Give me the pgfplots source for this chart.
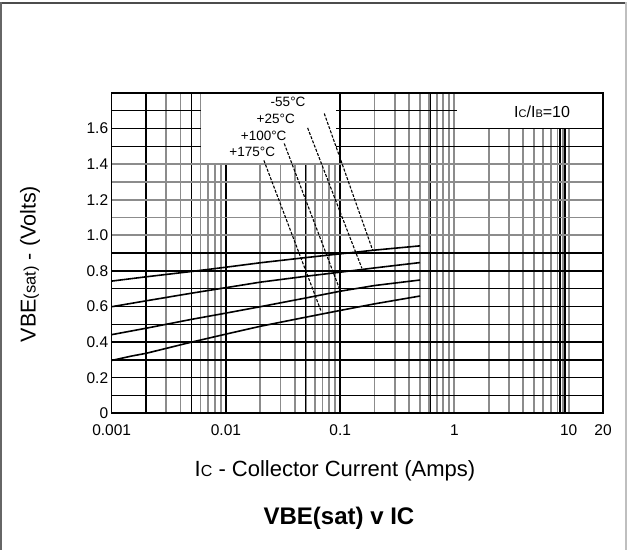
\documentclass[border=0pt]{standalone}
\usepackage{fontspec}
\setmainfont{Liberation Sans}
\usepackage{pgfplots}
\pgfplotsset{compat=1.18}

\newcommand{\fs}[1]{\fontsize{#1bp}{#1bp}\selectfont}

\begin{document}
\begin{tikzpicture}
\useasboundingbox (0,0) rectangle (627bp,550bp);
% outer frame of the figure
\draw[black!70, line width=2.5bp] (0,547bp) -- (627bp,547bp);
\draw[black!60, line width=1.5bp] (0.75bp,0) -- (0.75bp,548bp);
\draw[black!25, line width=1.5bp] (626bp,0) -- (626bp,548bp);

\begin{axis}[
  at={(111.7bp,136.7bp)}, anchor=south west,
  scale only axis, width=491.3bp, height=320.3bp,
  clip=false,
  xmode=log, xmin=0.001, xmax=20, ymin=0, ymax=1.8,
  xtick={0.001,0.01,0.1,1,10,20},
  xticklabels={0.001,0.01,0.1,1,10,20},
  minor xtick={0.002,0.003,0.004,0.005,0.006,0.007,0.008,0.009,
               0.02,0.03,0.04,0.05,0.06,0.07,0.08,0.09,
               0.2,0.3,0.4,0.5,0.6,0.7,0.8,0.9,
               1,2,3,4,5,6,7,8,9,10},
  ytick={0,0.2,0.4,0.6,0.8,1.0,1.2,1.4,1.6},
  yticklabels={0,0.2,0.4,0.6,0.8,1.0,1.2,1.4,1.6},
  minor ytick={0.1,0.2,0.3,0.4,0.5,0.6,0.7,0.8,0.9,1.5,1.6,1.7},
  major tick length=0pt, minor tick length=0pt,
  xmajorgrids=false, ymajorgrids=false,
  xminorgrids=true, yminorgrids=true,
  minor x grid style={black!45, line width=1.8bp},
  minor y grid style={black, line width=1.3bp},
  extra x ticks={0.002,0.005,0.01,0.05,0.1,0.62,8.4,9.3},
  extra x tick labels={},
  extra x tick style={xmajorgrids=true, major grid style={black, line width=1.4bp}},
  extra y ticks={1.0,1.1,1.2,1.3,1.4},
  extra y tick labels={},
  extra y tick style={ymajorgrids=true, major grid style={black!45, line width=1.8bp}},
  axis line style={black, line width=1.6bp},
  ticklabel style={font=\fs{15.5}},
  xticklabel style={yshift=-8bp},
  xlabel={I{\fs{16}C} - Collector Current (Amps)},
  xlabel style={font=\fs{22}, at={(axis description cs:0.4545,-0.179)}, anchor=center},
  ylabel={VBE{\fs{16.5}(sat)} - (Volts)},
  ylabel style={font=\fs{21.5}, at={(axis description cs:-0.166,0.466)}, anchor=center},
]
% white label areas
\fill[white] (axis cs:0.0061,1.405) rectangle (axis cs:0.092,1.8);
\fill[white] (axis cs:1.05,1.606) rectangle (axis cs:20,1.8);
\draw[black, line width=1.6bp] (rel axis cs:0,0) rectangle (rel axis cs:1,1);

% -55 C
\addplot[black, line width=1.6bp] coordinates {
  (0.001,0.743) (0.002,0.767) (0.005,0.797) (0.01,0.821) (0.02,0.846)
  (0.05,0.875) (0.1,0.896) (0.2,0.917) (0.5,0.941)};
% +25 C
\addplot[black, line width=1.6bp] coordinates {
  (0.001,0.599) (0.002,0.632) (0.005,0.675) (0.01,0.706) (0.02,0.737)
  (0.05,0.770) (0.1,0.793) (0.2,0.817) (0.5,0.847)};
% +100 C
\addplot[black, line width=1.6bp] coordinates {
  (0.001,0.442) (0.002,0.478) (0.005,0.528) (0.01,0.563) (0.02,0.599)
  (0.05,0.648) (0.1,0.686) (0.2,0.718) (0.5,0.749)};
% +175 C
\addplot[black, line width=1.6bp] coordinates {
  (0.001,0.297) (0.0015,0.322) (0.002,0.337) (0.005,0.400) (0.01,0.445)
  (0.02,0.489) (0.05,0.540) (0.1,0.578) (0.2,0.615) (0.5,0.659)};

% leader lines
\addplot[black, line width=1.1bp, dash pattern=on 3bp off 1.5bp] coordinates {(0.0726,1.685) (0.1935,0.913)};
\addplot[black, line width=1.1bp, dash pattern=on 3bp off 1.5bp] coordinates {(0.0519,1.604) (0.155,0.815)};
\addplot[black, line width=1.1bp, dash pattern=on 3bp off 1.5bp] coordinates {(0.0324,1.516) (0.1,0.690)};
\addplot[black, line width=1.1bp, dash pattern=on 3bp off 1.5bp] coordinates {(0.0215,1.421) (0.068,0.575)};

\node[font=\fs{13.5}] at (axis cs:0.035,1.748) {-55°C};
\node[font=\fs{13.5}] at (axis cs:0.0273,1.657) {+25°C};
\node[font=\fs{13.5}] at (axis cs:0.0214,1.559) {+100°C};
\node[font=\fs{13.5}] at (axis cs:0.017,1.469) {+175°C};
\node[font=\fs{16}] at (axis cs:5.86,1.695) {I{\fs{11}C}/I{\fs{11}B}=10};

\node[font=\bfseries\fs{24}] at (axis description cs:0.4626,-0.327) {VBE(sat) v IC};
\end{axis}
\end{tikzpicture}
\end{document}
